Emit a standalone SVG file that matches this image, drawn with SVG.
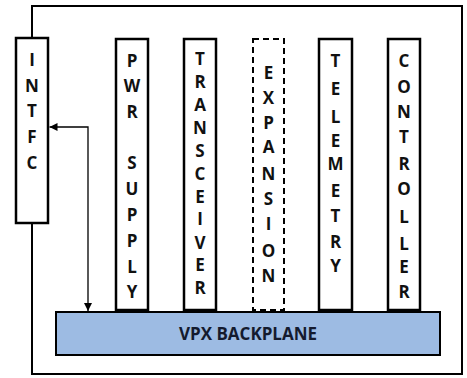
<svg xmlns="http://www.w3.org/2000/svg" width="467" height="378" viewBox="0 0 467 378">
<defs>
<style>
.box{fill:#fff;stroke:#000;stroke-width:2.5}
.dash{fill:#fff;stroke:#000;stroke-width:2;stroke-dasharray:6 4}
.lbl{font-family:"Open Sans","Liberation Sans",sans-serif;font-weight:700;font-size:17px;fill:#111;text-anchor:middle}
.frame{fill:none;stroke:#000;stroke-width:2}
.conn{fill:none;stroke:#000;stroke-width:1.3}
</style>
<marker id="ah" viewBox="0 0 10 10" refX="10" refY="5" markerWidth="8" markerHeight="8" markerUnits="userSpaceOnUse" orient="auto-start-reverse">
<path d="M0,0 L10,5 L0,10 Z" fill="#000"/>
</marker>
</defs>
<rect width="467" height="378" fill="#fff"/>
<path class="frame" d="M32,38 V6 H462 V374 H32 V223"/>
<g id="backplane">
<rect x="56" y="312" width="384" height="43" fill="#9dbbe3" stroke="#000" stroke-width="2"/>
<text class="lbl" x="248" y="340" style="fill:#141a2e">VPX BACKPLANE</text>
</g>
<g id="intfc">
<rect class="box" x="16" y="38" width="32" height="185"/>
<text class="lbl"><tspan x="32" y="66">I</tspan><tspan x="32" y="92">N</tspan><tspan x="32" y="117">T</tspan><tspan x="32" y="143">F</tspan><tspan x="32" y="169">C</tspan></text>
</g>
<g id="pwr-supply">
<rect class="box" x="116" y="39" width="32" height="271"/>
<text class="lbl"><tspan x="132" y="67">P</tspan><tspan x="132" y="92">W</tspan><tspan x="132" y="118">R</tspan><tspan x="132" y="169">S</tspan><tspan x="132" y="195">U</tspan><tspan x="132" y="221">P</tspan><tspan x="132" y="247">P</tspan><tspan x="132" y="273">L</tspan><tspan x="132" y="298">Y</tspan></text>
</g>
<g id="transceiver">
<rect class="box" x="184" y="39" width="32" height="271"/>
<text class="lbl"><tspan x="200" y="65">T</tspan><tspan x="200" y="88">R</tspan><tspan x="200" y="111">A</tspan><tspan x="200" y="134">N</tspan><tspan x="200" y="157">S</tspan><tspan x="200" y="180">C</tspan><tspan x="200" y="203">E</tspan><tspan x="200" y="225">I</tspan><tspan x="200" y="249">V</tspan><tspan x="200" y="271">E</tspan><tspan x="200" y="294">R</tspan></text>
</g>
<g id="expansion">
<rect class="dash" x="253" y="39" width="31" height="271"/>
<text class="lbl"><tspan x="268.5" y="79">E</tspan><tspan x="268.5" y="104">X</tspan><tspan x="268.5" y="129">P</tspan><tspan x="268.5" y="153">A</tspan><tspan x="268.5" y="180">N</tspan><tspan x="268.5" y="205">S</tspan><tspan x="268.5" y="230">I</tspan><tspan x="268.5" y="257">O</tspan><tspan x="268.5" y="282">N</tspan></text>
</g>
<g id="telemetry">
<rect class="box" x="319" y="39" width="33" height="271"/>
<text class="lbl"><tspan x="335.5" y="67">T</tspan><tspan x="335.5" y="95">E</tspan><tspan x="335.5" y="123">L</tspan><tspan x="335.5" y="147">E</tspan><tspan x="335.5" y="170">M</tspan><tspan x="335.5" y="197">E</tspan><tspan x="335.5" y="222">T</tspan><tspan x="335.5" y="248">R</tspan><tspan x="335.5" y="272">Y</tspan></text>
</g>
<g id="controller">
<rect class="box" x="388" y="39" width="32" height="271"/>
<text class="lbl"><tspan x="404" y="67">C</tspan><tspan x="404" y="93">O</tspan><tspan x="404" y="118">N</tspan><tspan x="404" y="143">T</tspan><tspan x="404" y="170">R</tspan><tspan x="404" y="195">O</tspan><tspan x="404" y="223">L</tspan><tspan x="404" y="250">L</tspan><tspan x="404" y="273">E</tspan><tspan x="404" y="298">R</tspan></text>
</g>
<g id="connectors">
<path class="conn" d="M49.5,127 H88 V311" marker-start="url(#ah)" marker-end="url(#ah)"/>
</g>
</svg>
